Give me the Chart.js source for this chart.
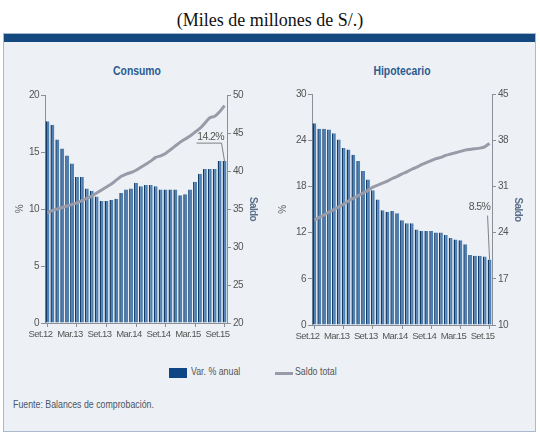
<!DOCTYPE html>
<html><head><meta charset="utf-8">
<script src="https://cdn.jsdelivr.net/npm/chart.js@4.4.1/dist/chart.umd.min.js"></script>
<style>
body{margin:0;width:540px;height:435px;background:#fff;position:relative;overflow:hidden;font-family:"Liberation Sans",Arial,sans-serif;}
#title{position:absolute;left:0;width:540px;top:10px;text-align:center;font-family:"Liberation Serif","Times New Roman",serif;font-size:18px;color:#111;}
#frame{position:absolute;left:3px;top:33px;width:531px;height:397px;border:1px solid #a9bacd;background:#edf0f4;}
#band{position:absolute;left:0;top:0;width:531px;height:8px;background:#13497f;}
.ptitle{position:absolute;top:63px;font-weight:bold;font-size:13px;color:#2b5c92;transform:translateX(-50%) scaleX(0.8);white-space:nowrap;}
.sx{position:absolute;transform-origin:0 0;transform:scaleX(0.8);white-space:nowrap;}
canvas{position:absolute;}
#leg{position:absolute;top:364px;left:0;width:540px;font-size:11px;color:#555;}
#fuente{position:absolute;left:13px;top:398px;font-size:11px;color:#4a5566;}
</style></head>
<body>
<div id="title">(Miles de millones de S/.)</div>
<div id="frame"><div id="band"></div></div>
<div class="ptitle" style="left:137px">Consumo</div>
<div class="ptitle" style="left:402px">Hipotecario</div>
<div style="position:absolute;left:0;top:60px;width:270px;height:300px"><canvas id="c1" width="270" height="300"></canvas></div>
<div style="position:absolute;left:270px;top:60px;width:270px;height:300px"><canvas id="c2" width="270" height="300"></canvas></div>
<div id="leg">
  <div style="position:absolute;left:169px;top:4px;width:18px;height:10px;background:#0f4585"></div>
  <div class="sx" style="left:191px;top:1px">Var. % anual</div>
  <div style="position:absolute;left:275px;top:8px;width:18px;height:3px;background:#9a9ba8"></div>
  <div class="sx" style="left:295px;top:1px">Saldo total</div>
</div>
<div class="sx" style="left:13px;top:398px;font-size:11px;color:#4a5566">Fuente: Balances de comprobación.</div>
<script>
const months = ["Set.12","Oct.12","Nov.12","Dic.12","Ene.13","Feb.13","Mar.13","Abr.13","May.13","Jun.13","Jul.13","Ago.13",
"Set.13","Oct.13","Nov.13","Dic.13","Ene.14","Feb.14","Mar.14","Abr.14","May.14","Jun.14","Jul.14","Ago.14",
"Set.14","Oct.14","Nov.14","Dic.14","Ene.15","Feb.15","Mar.15","Abr.15","May.15","Jun.15","Jul.15","Ago.15","Set.15"];
const tickLabels = ["Set.12","Mar.13","Set.13","Mar.14","Set.14","Mar.15","Set.15"];

const consumoVar = [17.7,17.4,16.1,15.3,14.7,14.0,12.8,12.8,11.8,11.6,11.1,10.7,10.7,10.8,10.9,11.4,11.7,11.8,12.3,12.0,12.1,12.1,12.0,11.7,11.7,11.7,11.7,11.2,11.3,11.7,12.4,13.1,13.5,13.5,13.5,14.2,14.2];
const consumoSaldo = [34.5,34.8,35.0,35.2,35.4,35.6,35.8,36.1,36.4,36.7,37.1,37.5,37.9,38.3,38.8,39.3,39.6,39.8,40.1,40.5,40.9,41.3,41.8,42.0,42.3,42.8,43.3,43.8,44.2,44.6,45.1,45.6,46.3,47.0,47.2,47.8,48.6];
const hipoVar = [26.2,25.5,25.5,25.4,24.9,24.1,23.0,22.8,22.1,21.3,20.0,18.9,17.5,16.3,14.9,14.7,14.8,14.5,13.6,13.2,13.2,12.4,12.2,12.2,12.2,12.0,12.0,11.7,11.3,11.1,11.0,10.5,9.1,9.0,9.0,8.9,8.5];
const hipoSaldo = [25.9,26.3,26.7,27.1,27.5,27.9,28.3,28.8,29.2,29.6,30.0,30.4,30.9,31.2,31.5,31.8,32.2,32.5,32.9,33.2,33.6,33.9,34.3,34.6,34.9,35.2,35.4,35.7,35.9,36.1,36.3,36.5,36.6,36.7,36.8,37.0,37.5];
const consumoLabel = "14.2%";
const hipoLabel = "8.5%";

const FONT = '"Liberation Sans",Arial,sans-serif';
const TXT = '#555';
const AX = '#8a8f98';

const tight = { id:'tight', beforeDraw(chart){ try{ chart.ctx.letterSpacing = '-0.6px'; }catch(e){} } };

function makeChart(id, varData, saldoData, cfg){
  const annot = {
    id:'annot'+id,
    afterDatasetsDraw(chart){
      const ctx = chart.ctx;
      const meta = chart.getDatasetMeta(1);
      const last = meta.data[meta.data.length-1];
      const xb = last.x, yb = last.y;
      ctx.save();
      ctx.strokeStyle = '#666'; ctx.lineWidth = 0.8;
      ctx.fillStyle = '#555';
      ctx.font = '10.5px ' + FONT;
      ctx.textAlign = 'center'; ctx.textBaseline = 'middle';
      if (cfg.underline){
        ctx.fillText(cfg.label, xb-14, yb-24);
        ctx.beginPath();
        ctx.moveTo(xb-28, yb-18); ctx.lineTo(xb-3, yb-18); ctx.lineTo(xb, yb);
        ctx.stroke();
      } else {
        ctx.fillText(cfg.label, xb-10, yb-52);
        ctx.beginPath();
        ctx.moveTo(xb-2, yb-44); ctx.lineTo(xb, yb);
        ctx.stroke();
      }
      ctx.restore();
    }
  };
  return new Chart(document.getElementById(id), {
    data:{
      labels: months,
      datasets:[
        {type:'line', label:'Saldo total', data:saldoData, yAxisID:'y1', borderColor:'#9a9ba8', borderWidth:3, pointRadius:0, tension:0.2, order:0},
        {type:'bar', label:'Var. % anual', data:varData, yAxisID:'y', backgroundColor:'#4d80b4', borderColor:'#143a66', borderWidth:{left:1.5,right:0,top:0,bottom:0}, barPercentage:0.8, categoryPercentage:1, order:1}
      ]
    },
    options:{
      responsive:false, animation:false,
      layout:{padding:{top:cfg.top, bottom:0, left:0, right:0}},
      plugins:{legend:{display:false}, tooltip:{enabled:false}},
      scales:{
        x:{
          grid:{drawOnChartArea:false, drawTicks:true, tickLength:4, offset:false, color:AX},
          border:{color:AX},
          ticks:{autoSkip:false, maxRotation:0, minRotation:0, color:TXT, font:{family:FONT,size:9.5}, padding:2, labelOffset:-7,
            callback:(v,i)=> tickLabels.includes(months[i]) && i%6===0 ? months[i] : null},
          afterFit:(s)=>{ s.height = cfg.xh; }
        },
        y:{
          position:'left', min:0, max:cfg.lmax, ticks:{stepSize:cfg.lstep, color:TXT, font:{family:FONT,size:10}, padding:2},
          grid:{drawOnChartArea:false, tickLength:4, color:AX}, border:{color:AX},
          title:{display:true, text:'%', color:'#666', font:{family:FONT,size:10}, padding:{top:cfg.ltp,bottom:0}},
          afterFit:(s)=>{ s.width = cfg.lw; }
        },
        y1:{
          position:'right', min:cfg.rmin, max:cfg.rmax, ticks:{stepSize:cfg.rstep, color:TXT, font:{family:FONT,size:10}, padding:2},
          grid:{drawOnChartArea:false, tickLength:4, color:AX}, border:{color:AX},
          title:{display:true, text:'Saldo', color:'#5a6f8a', font:{family:FONT,size:10,weight:'bold'}, padding:{top:cfg.rtp,bottom:0}},
          afterFit:(s)=>{ s.width = cfg.rw; }
        }
      }
    },
    plugins:[tight, annot]
  });
}
makeChart('c1', consumoVar, consumoSaldo, {label:consumoLabel, underline:true, top:35, xh:37, lw:45, rw:43, lmax:20, lstep:5, rmin:20, rmax:50, rstep:5, ltp:14, rtp:11});
makeChart('c2', hipoVar, hipoSaldo, {label:hipoLabel, underline:false, top:34, xh:35, lw:42, rw:48, lmax:30, lstep:6, rmin:10, rmax:45, rstep:7, ltp:7, rtp:16});
</script>
</body></html>
